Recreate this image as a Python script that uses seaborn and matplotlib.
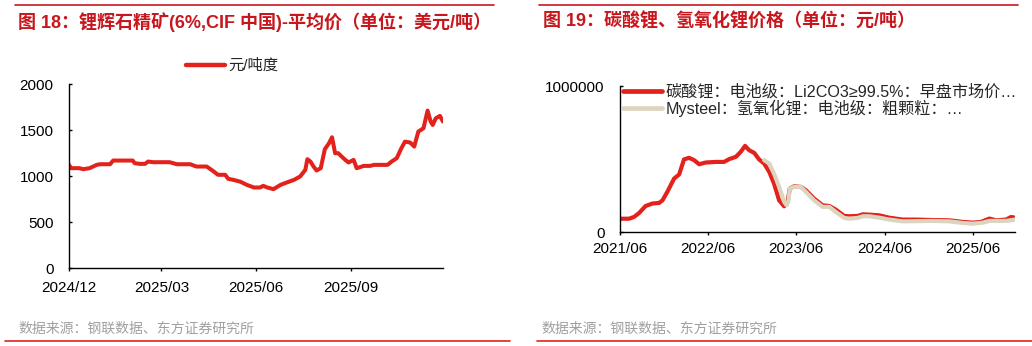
"""Two-panel lithium price chart: spodumene (left) and Li2CO3 / LiOH (right)."""

import matplotlib

matplotlib.use("Agg")
import matplotlib.pyplot as plt
import matplotlib.dates as mdates
from matplotlib.lines import Line2D
import pandas as pd
import seaborn as sns

# ---------------------------------------------------------------- data ----
spod_dates = [
    "2024-12-01", "2024-12-03", "2024-12-11", "2024-12-15", "2024-12-21",
    "2024-12-28", "2024-12-31", "2025-01-10", "2025-01-13", "2025-02-01",
    "2025-02-03", "2025-02-08", "2025-02-13", "2025-02-16", "2025-02-21",
    "2025-03-09", "2025-03-16", "2025-03-29", "2025-04-04", "2025-04-14",
    "2025-04-20", "2025-04-25", "2025-05-02", "2025-05-05", "2025-05-10",
    "2025-05-17", "2025-05-23", "2025-05-30", "2025-06-05", "2025-06-08",
    "2025-06-12", "2025-06-18", "2025-06-25", "2025-07-01", "2025-07-08",
    "2025-07-14", "2025-07-19", "2025-07-21", "2025-07-24", "2025-07-27",
    "2025-07-30", "2025-08-03", "2025-08-07", "2025-08-11", "2025-08-14",
    "2025-08-17", "2025-08-20", "2025-08-25", "2025-08-30", "2025-09-04",
    "2025-09-07", "2025-09-14", "2025-09-20", "2025-09-24", "2025-10-07",
    "2025-10-11", "2025-10-16", "2025-10-20", "2025-10-24", "2025-10-29",
    "2025-11-02", "2025-11-06", "2025-11-11", "2025-11-15", "2025-11-18",
    "2025-11-20", "2025-11-23", "2025-11-27", "2025-11-30",
]
spod_price = [
    1121, 1085, 1085, 1074, 1085,
    1121, 1128, 1128, 1168, 1168,
    1139, 1132, 1132, 1157, 1150,
    1150, 1128, 1128, 1103, 1103,
    1056, 1013, 1013, 969, 958,
    937, 904, 875, 875, 893,
    875, 857, 904, 930, 958,
    995, 1067, 1183, 1157, 1103,
    1060, 1085, 1291, 1356, 1421,
    1248, 1248, 1194, 1147, 1175,
    1085, 1110, 1110, 1121, 1121,
    1157, 1194, 1291, 1374, 1364,
    1320, 1483, 1519, 1711, 1591,
    1555, 1628, 1653, 1591,
]

li2co3_dates = [
    "2021-06-01", "2021-07-08", "2021-07-29", "2021-08-19", "2021-09-15",
    "2021-10-13", "2021-11-10", "2021-11-24", "2021-12-14", "2022-01-11",
    "2022-02-01", "2022-02-21", "2022-03-14", "2022-04-04", "2022-04-25",
    "2022-05-22", "2022-07-03", "2022-08-06", "2022-08-27", "2022-09-24",
    "2022-10-14", "2022-11-01", "2022-11-18", "2022-12-09", "2022-12-29",
    "2023-01-19", "2023-02-09", "2023-03-01", "2023-03-22", "2023-04-12",
    "2023-04-26", "2023-05-05", "2023-05-23", "2023-06-20", "2023-07-11",
    "2023-08-14", "2023-09-18", "2023-10-16", "2023-11-12", "2023-12-17",
    "2024-01-06", "2024-02-10", "2024-03-02", "2024-03-29", "2024-05-10",
    "2024-06-20", "2024-08-15", "2024-10-09", "2024-12-17", "2025-02-24",
    "2025-04-20", "2025-06-01", "2025-07-05", "2025-08-09", "2025-09-05",
    "2025-10-17", "2025-11-07", "2025-11-23",
]
li2co3_price = [
    91000, 91000, 103000, 130000, 178000,
    195000, 199000, 217000, 275000, 366000,
    394000, 497000, 508000, 492000, 464000,
    476000, 480000, 480000, 499000, 515000,
    549000, 590000, 560000, 542000, 497000,
    469000, 412000, 332000, 217000, 176000,
    206000, 297000, 313000, 309000, 286000,
    229000, 183000, 178000, 153000, 110000,
    108000, 110000, 121000, 119000, 114000,
    98000, 85000, 85000, 82000, 80000,
    69000, 64000, 69000, 92000, 80000,
    85000, 103000, 98000,
]

lioh_dates = [
    "2023-01-19", "2023-02-09", "2023-03-01", "2023-03-22", "2023-04-12",
    "2023-04-22", "2023-04-30", "2023-05-05", "2023-05-23", "2023-06-20",
    "2023-07-11", "2023-08-14", "2023-09-18", "2023-10-16", "2023-11-12",
    "2023-12-17", "2024-01-06", "2024-02-10", "2024-03-02", "2024-03-29",
    "2024-05-10", "2024-06-20", "2024-08-15", "2024-12-17", "2025-02-24",
    "2025-04-20", "2025-06-01", "2025-07-12", "2025-08-09", "2025-10-17",
    "2025-11-23",
]
lioh_price = [
    492000, 469000, 400000, 309000, 206000,
    183000, 217000, 297000, 309000, 309000,
    275000, 217000, 172000, 172000, 137000,
    96000, 92000, 96000, 108000, 108000,
    98000, 85000, 73000, 76000, 73000,
    62000, 57000, 64000, 76000, 76000,
    85000,
]

left_title = "图 18：锂辉石精矿(6%,CIF 中国)-平均价（单位：美元/吨）"
right_title = "图 19：碳酸锂、氢氧化锂价格（单位：元/吨）"
source_note = "数据来源：钢联数据、东方证券研究所"
spod_label = "元/吨度"
li2co3_label = "碳酸锂：电池级：Li2CO3≥99.5%：早盘市场价…"
lioh_label = "Mysteel：氢氧化锂：电池级：粗颗粒：…"

# ------------------------------------------------------------- styling ----
RED = "#E3221C"
TITLE_RED = "#C8161D"
BEIGE = "#DDD4C0"
GREY = "#A0A0A0"

sns.set_style("ticks")
plt.rcParams["font.family"] = ["Liberation Sans", "Noto Sans CJK SC", "DejaVu Sans"]
plt.rcParams["axes.unicode_minus"] = False

W, H = 1032, 346
fig = plt.figure(figsize=(W / 100, H / 100), dpi=100)


def box(x0, y0, x1, y1):
    """Pixel box (top-left origin) to figure fraction rect."""
    return [x0 / W, 1 - y1 / H, (x1 - x0) / W, (y1 - y0) / H]


def style_axes(ax, ypad, xpad):
    sns.despine(ax=ax)
    for side in ["left", "bottom"]:
        ax.spines[side].set_color("black")
        ax.spines[side].set_linewidth(1.0)
    ax.tick_params(axis="y", direction="in", length=2.5, width=1.0,
                   labelsize=11, pad=ypad, colors="black")
    ax.tick_params(axis="x", direction="out", length=2.5, width=1.0,
                   labelsize=11, pad=xpad, colors="black")
    ax.set_xlabel("")
    ax.set_ylabel("")
    ax.set_facecolor("white")


# ------------------------------------------------------------ left panel --
spod = pd.DataFrame({"date": pd.to_datetime(spod_dates), "price": spod_price})

ax1 = fig.add_axes(box(69, 84, 443, 268))
sns.lineplot(data=spod, x="date", y="price", color=RED, linewidth=2.9,
             ax=ax1, legend=False)
ax1.set_ylim(0, 2000)
ax1.set_yticks([0, 500, 1000, 1500, 2000])
ax1.set_xlim(pd.Timestamp("2024-12-01"), pd.Timestamp("2025-11-30"))
ax1.xaxis.set_major_locator(mdates.MonthLocator(bymonth=[3, 6, 9, 12]))
ax1.xaxis.set_major_formatter(mdates.DateFormatter("%Y/%m"))
style_axes(ax1, ypad=11, xpad=7)

ax1.legend(
    handles=[Line2D([], [], color=RED, linewidth=3.2)],
    labels=[spod_label],
    loc="center",
    bbox_to_anchor=(232 / W, 1 - 66 / H),
    bbox_transform=fig.transFigure,
    frameon=False,
    fontsize=11,
    handlelength=2.6,
    handletextpad=0.2,
    borderpad=0,
)

# ----------------------------------------------------------- right panel --
carb = pd.DataFrame({"date": pd.to_datetime(li2co3_dates), "price": li2co3_price})
hydr = pd.DataFrame({"date": pd.to_datetime(lioh_dates), "price": lioh_price})

ax2 = fig.add_axes(box(620, 86, 1015, 232))
sns.lineplot(data=carb, x="date", y="price", color=RED, linewidth=3.0,
             ax=ax2, legend=False)
sns.lineplot(data=hydr, x="date", y="price", color=BEIGE, linewidth=3.0,
             ax=ax2, legend=False)
ax2.set_ylim(0, 1000000)
ax2.set_yticks([0, 1000000])
ax2.set_yticklabels(["0", "1000000"])
ax2.set_xlim(pd.Timestamp("2021-06-01"), pd.Timestamp("2025-11-23"))
ax2.xaxis.set_major_locator(mdates.MonthLocator(bymonth=[6]))
ax2.xaxis.set_major_formatter(mdates.DateFormatter("%Y/%m"))
style_axes(ax2, ypad=11, xpad=5)

ax2.legend(
    handles=[Line2D([], [], color=RED, linewidth=3.4),
             Line2D([], [], color=BEIGE, linewidth=3.4)],
    labels=[li2co3_label, lioh_label],
    loc="upper left",
    bbox_to_anchor=(623 / W, 1 - 84 / H),
    bbox_transform=fig.transFigure,
    frameon=False,
    fontsize=11.6,
    handlelength=2.4,
    handletextpad=0.25,
    labelspacing=0.02,
    borderpad=0,
    borderaxespad=0,
)

# -------------------------------------------------------- frame & texts ----
for x0, x1, y in [(15, 494, 5), (539, 1018, 5)]:
    fig.add_artist(Line2D([x0 / W, x1 / W], [1 - y / H] * 2, color=TITLE_RED,
                          linewidth=1.2, transform=fig.transFigure))
for x0, x1, y in [(5, 510, 341), (537, 1032, 341)]:
    fig.add_artist(Line2D([x0 / W, x1 / W], [1 - y / H] * 2, color=RED,
                          linewidth=1.2, transform=fig.transFigure))

fig.text(18 / W, 1 - 22 / H, left_title, color=TITLE_RED, fontsize=13,
         fontweight="bold", va="center", ha="left")
fig.text(543 / W, 1 - 22 / H, right_title, color=TITLE_RED, fontsize=13,
         fontweight="bold", va="center", ha="left")
fig.text(18 / W, 1 - 329 / H, source_note, color=GREY, fontsize=10,
         va="center", ha="left")
fig.text(541 / W, 1 - 329 / H, source_note, color=GREY, fontsize=10,
         va="center", ha="left")

fig.savefig("out.png", dpi=100, facecolor="white")
